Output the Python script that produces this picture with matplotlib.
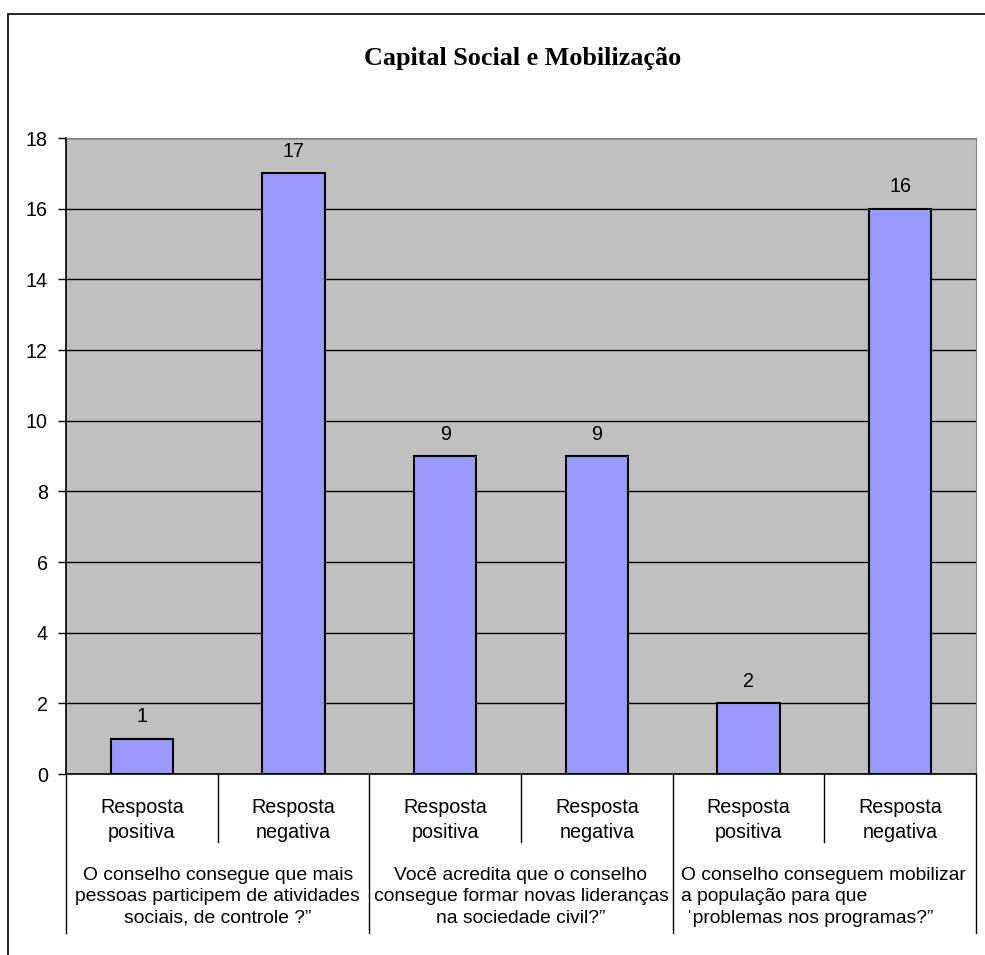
import numpy as np
import matplotlib.pyplot as plt
from matplotlib.patches import Rectangle

# dados
respostas = ['Resposta\npositiva', 'Resposta\nnegativa',
             'Resposta\npositiva', 'Resposta\nnegativa',
             'Resposta\npositiva', 'Resposta\nnegativa']
valores = [1, 17, 9, 9, 2, 16]
perguntas = ['O conselho consegue que mais\npessoas participem de atividades\nsociais, de controle ?\u201d',
             'Voc\u00ea acredita que o conselho\nconsegue formar novas lideran\u00e7as\nna sociedade civil?\u201d',
             'O conselho conseguem mobilizar\na popula\u00e7\u00e3o para que\n \u02c8problemas nos programas?\u201d']
titulo = 'Capital Social e Mobiliza\u00e7\u00e3o'

plt.rcParams['font.family'] = ['Liberation Sans', 'DejaVu Sans']
fs = 14.2
fs_grupo = 13.9

fig = plt.figure(figsize=(9.85, 9.55), dpi=100)
ax = fig.add_axes([66/985, 1-774/955, (976-66)/985, (774-138)/955])

x = np.arange(len(valores))
ax.bar(x, valores, width=0.41, color='#9999FF', edgecolor='black', linewidth=1.5, zorder=3)
for xi, v in zip(x, valores):
    ax.text(xi, v + 0.62, str(v), ha='center', va='center', fontsize=fs)

ax.set_facecolor('#C0C0C0')
ax.set_xlim(-0.5, 5.5)
ax.set_ylim(0, 18)
ax.set_yticks(range(0, 19, 2))
ax.yaxis.grid(True, color='black', linewidth=1)
ax.set_axisbelow(True)
ax.tick_params(axis='y', labelsize=fs, length=6, width=1, pad=7)
ax.set_xticks([])
for s in ['top', 'right']:
    ax.spines[s].set_color('#808080')
ax.spines['left'].set_linewidth(1.2)
ax.spines['bottom'].set_linewidth(1.2)

# rótulos das categorias
tr = ax.get_xaxis_transform()
for xi, r in zip(x, respostas):
    ax.text(xi, -0.0725, r, transform=tr, ha='center', va='center',
            fontsize=fs, linespacing=1.41)
ax.text(0.5, -0.193, perguntas[0], transform=tr, ha='center', va='center',
        fontsize=fs_grupo, linespacing=1.33)
ax.text(2.5, -0.193, perguntas[1], transform=tr, ha='center', va='center',
        fontsize=fs_grupo, linespacing=1.33)
ax.text(3.555, -0.193, perguntas[2], transform=tr, ha='left', va='center',
        fontsize=fs_grupo, linespacing=1.33)

# divisórias
for b in [-0.5, 1.5, 3.5, 5.5]:
    ax.plot([b, b], [0, -0.2505], transform=tr, color='black', lw=1, clip_on=False)
for b in [0.5, 2.5, 4.5]:
    ax.plot([b, b], [0, -0.107], transform=tr, color='black', lw=1, clip_on=False)

fig.text(523/985, 1-58/955, titulo, ha='center', va='center', fontsize=18.8,
         fontweight='bold', family='Liberation Serif')

# moldura do gráfico
fig.patches.append(Rectangle((8/985, -0.05), 1.2, 1-14/955+0.05, fill=False,
                             edgecolor='black', linewidth=1.2,
                             transform=fig.transFigure))

fig.savefig('out.png', dpi=100)
